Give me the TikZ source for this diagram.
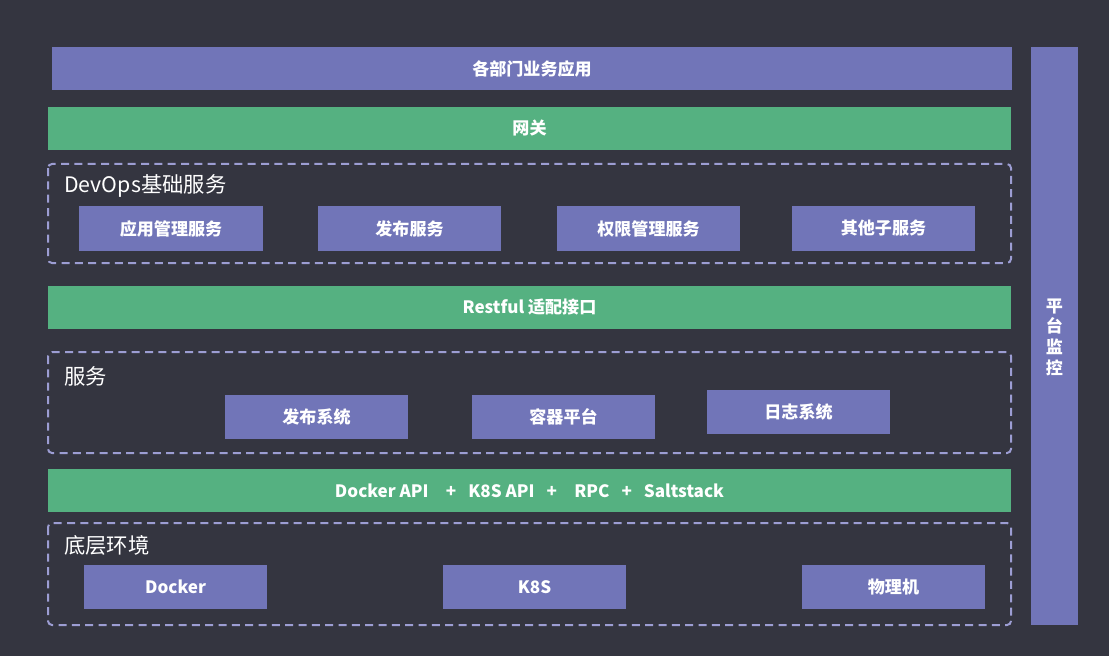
\documentclass[tikz,border=0pt]{standalone}
\usepackage{fontspec}
\newfontfamily\cjk{Noto Sans CJK SC}
\usepackage{tikz}

\definecolor{bgdark}{HTML}{343540}
\definecolor{barpurple}{HTML}{7175B8}
\definecolor{bargreen}{HTML}{55B181}
\definecolor{dashpurple}{HTML}{9C9DD3}

\tikzset{
  bartext/.style={text=white, font=\cjk\bfseries\fontsize{12.8pt}{15pt}\selectfont, inner sep=0pt},
  grouplabel/.style={text=white, font=\cjk\fontsize{16pt}{18pt}\selectfont, anchor=west, inner sep=0pt},
  groupbox/.style={draw=dashpurple, line width=1.5pt, dash pattern=on 6pt off 4pt, rounded corners=3pt},
}

\begin{document}
\begin{tikzpicture}[x=0.75pt,y=0.75pt,yscale=-1,xscale=1]
%background
\fill[bgdark] (0,0) rectangle (1109,656);
\useasboundingbox (0,0) rectangle (1109,656);

%Top bars
\fill[barpurple] (52,47) rectangle (1012,90) node[midway, bartext] (apps) {各部门业务应用};
\fill[bargreen] (48,107) rectangle (1011,150) node[midway, bartext] (gateway) {网关};

%DevOps group
\draw[groupbox] (48,164) rectangle (1011,263);
\node[grouplabel] (devops) at (64,186) {DevOps基础服务};
\fill[barpurple] (79,206) rectangle (263,251) node[midway, bartext] (appmgr) {应用管理服务};
\fill[barpurple] (318,206) rectangle (501,251) node[midway, bartext] (publish) {发布服务};
\fill[barpurple] (557,206) rectangle (740,251) node[midway, bartext] (perm) {权限管理服务};
\fill[barpurple] (792,206) rectangle (975,251) node[midway, bartext] (other) {其他子服务};

%Restful
\fill[bargreen] (48,286) rectangle (1011,329) node[midway, bartext] (restful) {Restful 适配接口};

%Service group
\draw[groupbox] (48,352) rectangle (1011,453);
\node[grouplabel] (service) at (64,376) {服务};
\fill[barpurple] (225,395) rectangle (408,439) node[midway, bartext] (pubsys) {发布系统};
\fill[barpurple] (472,395) rectangle (655,439) node[midway, bartext] (container) {容器平台};
\fill[barpurple] (707,390) rectangle (890,434) node[midway, bartext] (logsys) {日志系统};

%API bar
\fill[bargreen] (48,469) rectangle (1011,512) node[midway, bartext] (api)
  {Docker API\hspace{13pt}+\hspace{9pt}K8S API\hspace{9pt}+\hspace{13pt}RPC\hspace{9pt}+\hspace{9pt}Saltstack};

%Base group
\draw[groupbox] (48,523) rectangle (1011,625);
\node[grouplabel] (base) at (64,545) {底层环境};
\fill[barpurple] (84,565) rectangle (267,609) node[midway, bartext] (docker) {Docker};
\fill[barpurple] (443,565) rectangle (626,609) node[midway, bartext] (k8s) {K8S};
\fill[barpurple] (802,565) rectangle (985,609) node[midway, bartext] (physical) {物理机};

%Monitor column
\fill[barpurple] (1031,47) rectangle (1078,625);
\node[bartext, align=center, font=\cjk\bfseries\fontsize{12.8pt}{15.5pt}\selectfont] (monitor) at (1054.5,337) {平\\台\\监\\控};

\end{tikzpicture}
\end{document}
